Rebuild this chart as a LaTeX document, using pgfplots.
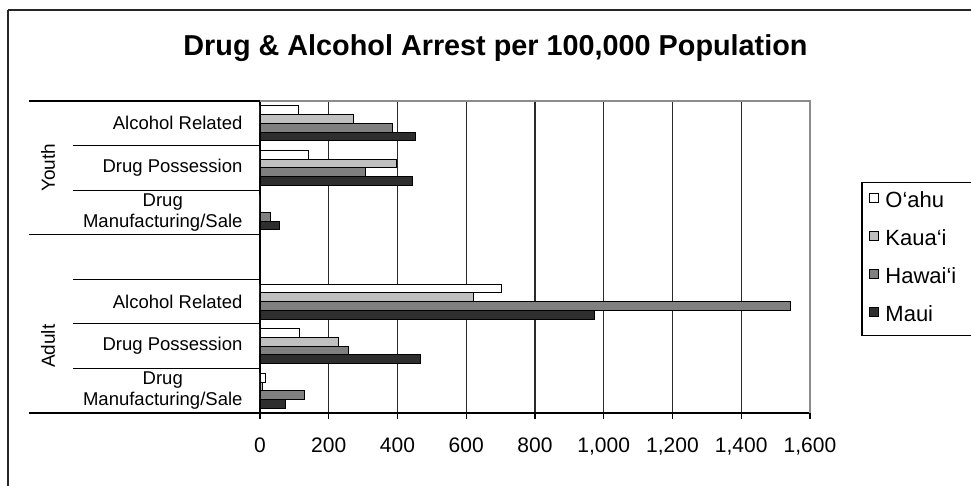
\documentclass[border=0pt]{standalone}
\usepackage{fontspec}
\setmainfont{Liberation Sans}
\usepackage{pgfplots}
\usepackage{pgfplotstable}
\pgfplotsset{compat=1.18}

\definecolor{cKau}{HTML}{C0C0C0}
\definecolor{cHaw}{HTML}{808080}
\definecolor{cMau}{HTML}{2E2E2E}
\definecolor{gridc}{HTML}{2A2A2A}

% y: 0 Youth Alcohol, 1 Youth Drug Poss., 2 Youth Drug Mfg., 3 (gap), 4 Adult Alcohol, 5 Adult Drug Poss., 6 Adult Drug Mfg.
\pgfplotstableread{
y x
0 111
1 140
2 0
4 703
5 116
6 16
}\oahu
\pgfplotstableread{
y x
0 273
1 396
2 0
4 620
5 227
6 8
}\kauai
\pgfplotstableread{
y x
0 384
1 307
2 29
4 1543
5 256
6 128
}\hawaii
\pgfplotstableread{
y x
0 451
1 443
2 58
4 974
5 466
6 74
}\maui

\begin{document}
\begin{tikzpicture}
\path[use as bounding box] (-260pt,-72pt) rectangle (711pt,413pt);
% outer chart frame
\draw[line width=1.5pt, black!85] (-252pt,403pt) -- (800pt,403pt);
\draw[line width=1.5pt, black!85] (-252pt,403pt) -- (-252pt,-100pt);
\node[font=\fontsize{28.8}{34}\selectfont\bfseries] at (235.5pt,365pt) {Drug \& Alcohol Arrest per 100,000 Population};
\begin{axis}[
  at={(0pt,0pt)}, anchor=south west,
  scale only axis,
  width=550pt, height=312pt,
  xbar, bar width=8.75pt,
  xmin=0, xmax=1600,
  ymin=-0.5, ymax=6.5,
  y dir=reverse,
  clip=false,
  axis x line*=bottom, axis y line*=left,
  axis line style={line width=1.2pt, black},
  xtick={0,200,...,1600},
  xmajorgrids,
  major grid style={line width=1.3pt, gridc},
  tick align=outside,
  xtick style={line width=1.2pt, black},
  major tick length=6pt,
  ytick={0,1,2,4,5,6},
  yticklabels={Alcohol Related, Drug Possession, Drug\\Manufacturing/Sale, Alcohol Related, Drug Possession, Drug\\Manufacturing/Sale},
  ytick style={draw=none},
  yticklabel style={align=center, font=\fontsize{18.5}{21}\selectfont, xshift=-8pt},
  xticklabel style={font=\fontsize{21}{25}\selectfont, yshift=-15pt},
  /pgf/number format/assume math mode=true,
  /pgf/number format/1000 sep={,},
  legend cell align=left,
  legend style={at={(1.0945,0.740)}, anchor=north west, draw=black, line width=1.2pt,
    font=\fontsize{22}{26}\selectfont, row sep=13pt, inner sep=7pt, outer sep=0pt,
    nodes={inner sep=3pt, text height=15pt, text depth=4pt}},
  legend image code/.code={\draw[#1, line width=0.8pt] (0pt,-0.5pt) rectangle (9pt,8.5pt);},
]
\addplot[draw=black, line width=0.9pt, fill=white, bar shift=13.125pt] table[x=x,y=y] {\oahu};
\addplot[draw=black, line width=0.9pt, fill=cKau, bar shift=4.375pt] table[x=x,y=y] {\kauai};
\addplot[draw=black, line width=0.9pt, fill=cHaw, bar shift=-4.375pt] table[x=x,y=y] {\hawaii};
\addplot[draw=black, line width=0.9pt, fill=cMau, bar shift=-13.125pt] table[x=x,y=y] {\maui};
\legend{\,O‘ahu, \,Kaua‘i, \,Hawai‘i\hphantom{MMM}, \,Maui}
% top and right plot-area border
\draw[line width=1.2pt, black!45] (axis cs:0,-0.5) -- (axis cs:1600,-0.5) -- (axis cs:1600,6.5);
% category separators
\draw[line width=1.2pt, black] ([xshift=-231pt]axis cs:0,-0.5) -- (axis cs:0,-0.5);
\draw[line width=1.2pt, black] ([xshift=-187pt]axis cs:0,0.5) -- (axis cs:0,0.5);
\draw[line width=1.2pt, black] ([xshift=-187pt]axis cs:0,1.5) -- (axis cs:0,1.5);
\draw[line width=1.2pt, black] ([xshift=-231pt]axis cs:0,2.5) -- (axis cs:0,2.5);
\draw[line width=1.2pt, black] ([xshift=-187pt]axis cs:0,3.5) -- (axis cs:0,3.5);
\draw[line width=1.2pt, black] ([xshift=-187pt]axis cs:0,4.5) -- (axis cs:0,4.5);
\draw[line width=1.2pt, black] ([xshift=-187pt]axis cs:0,5.5) -- (axis cs:0,5.5);
\draw[line width=1.2pt, black] ([xshift=-231pt]axis cs:0,6.5) -- (axis cs:0,6.5);
\node[rotate=90, font=\fontsize{19}{22}\selectfont] at ([xshift=-212pt]axis cs:0,1) {Youth};
\node[rotate=90, font=\fontsize{19}{22}\selectfont] at ([xshift=-212pt]axis cs:0,5) {Adult};
\end{axis}
\end{tikzpicture}
\end{document}
